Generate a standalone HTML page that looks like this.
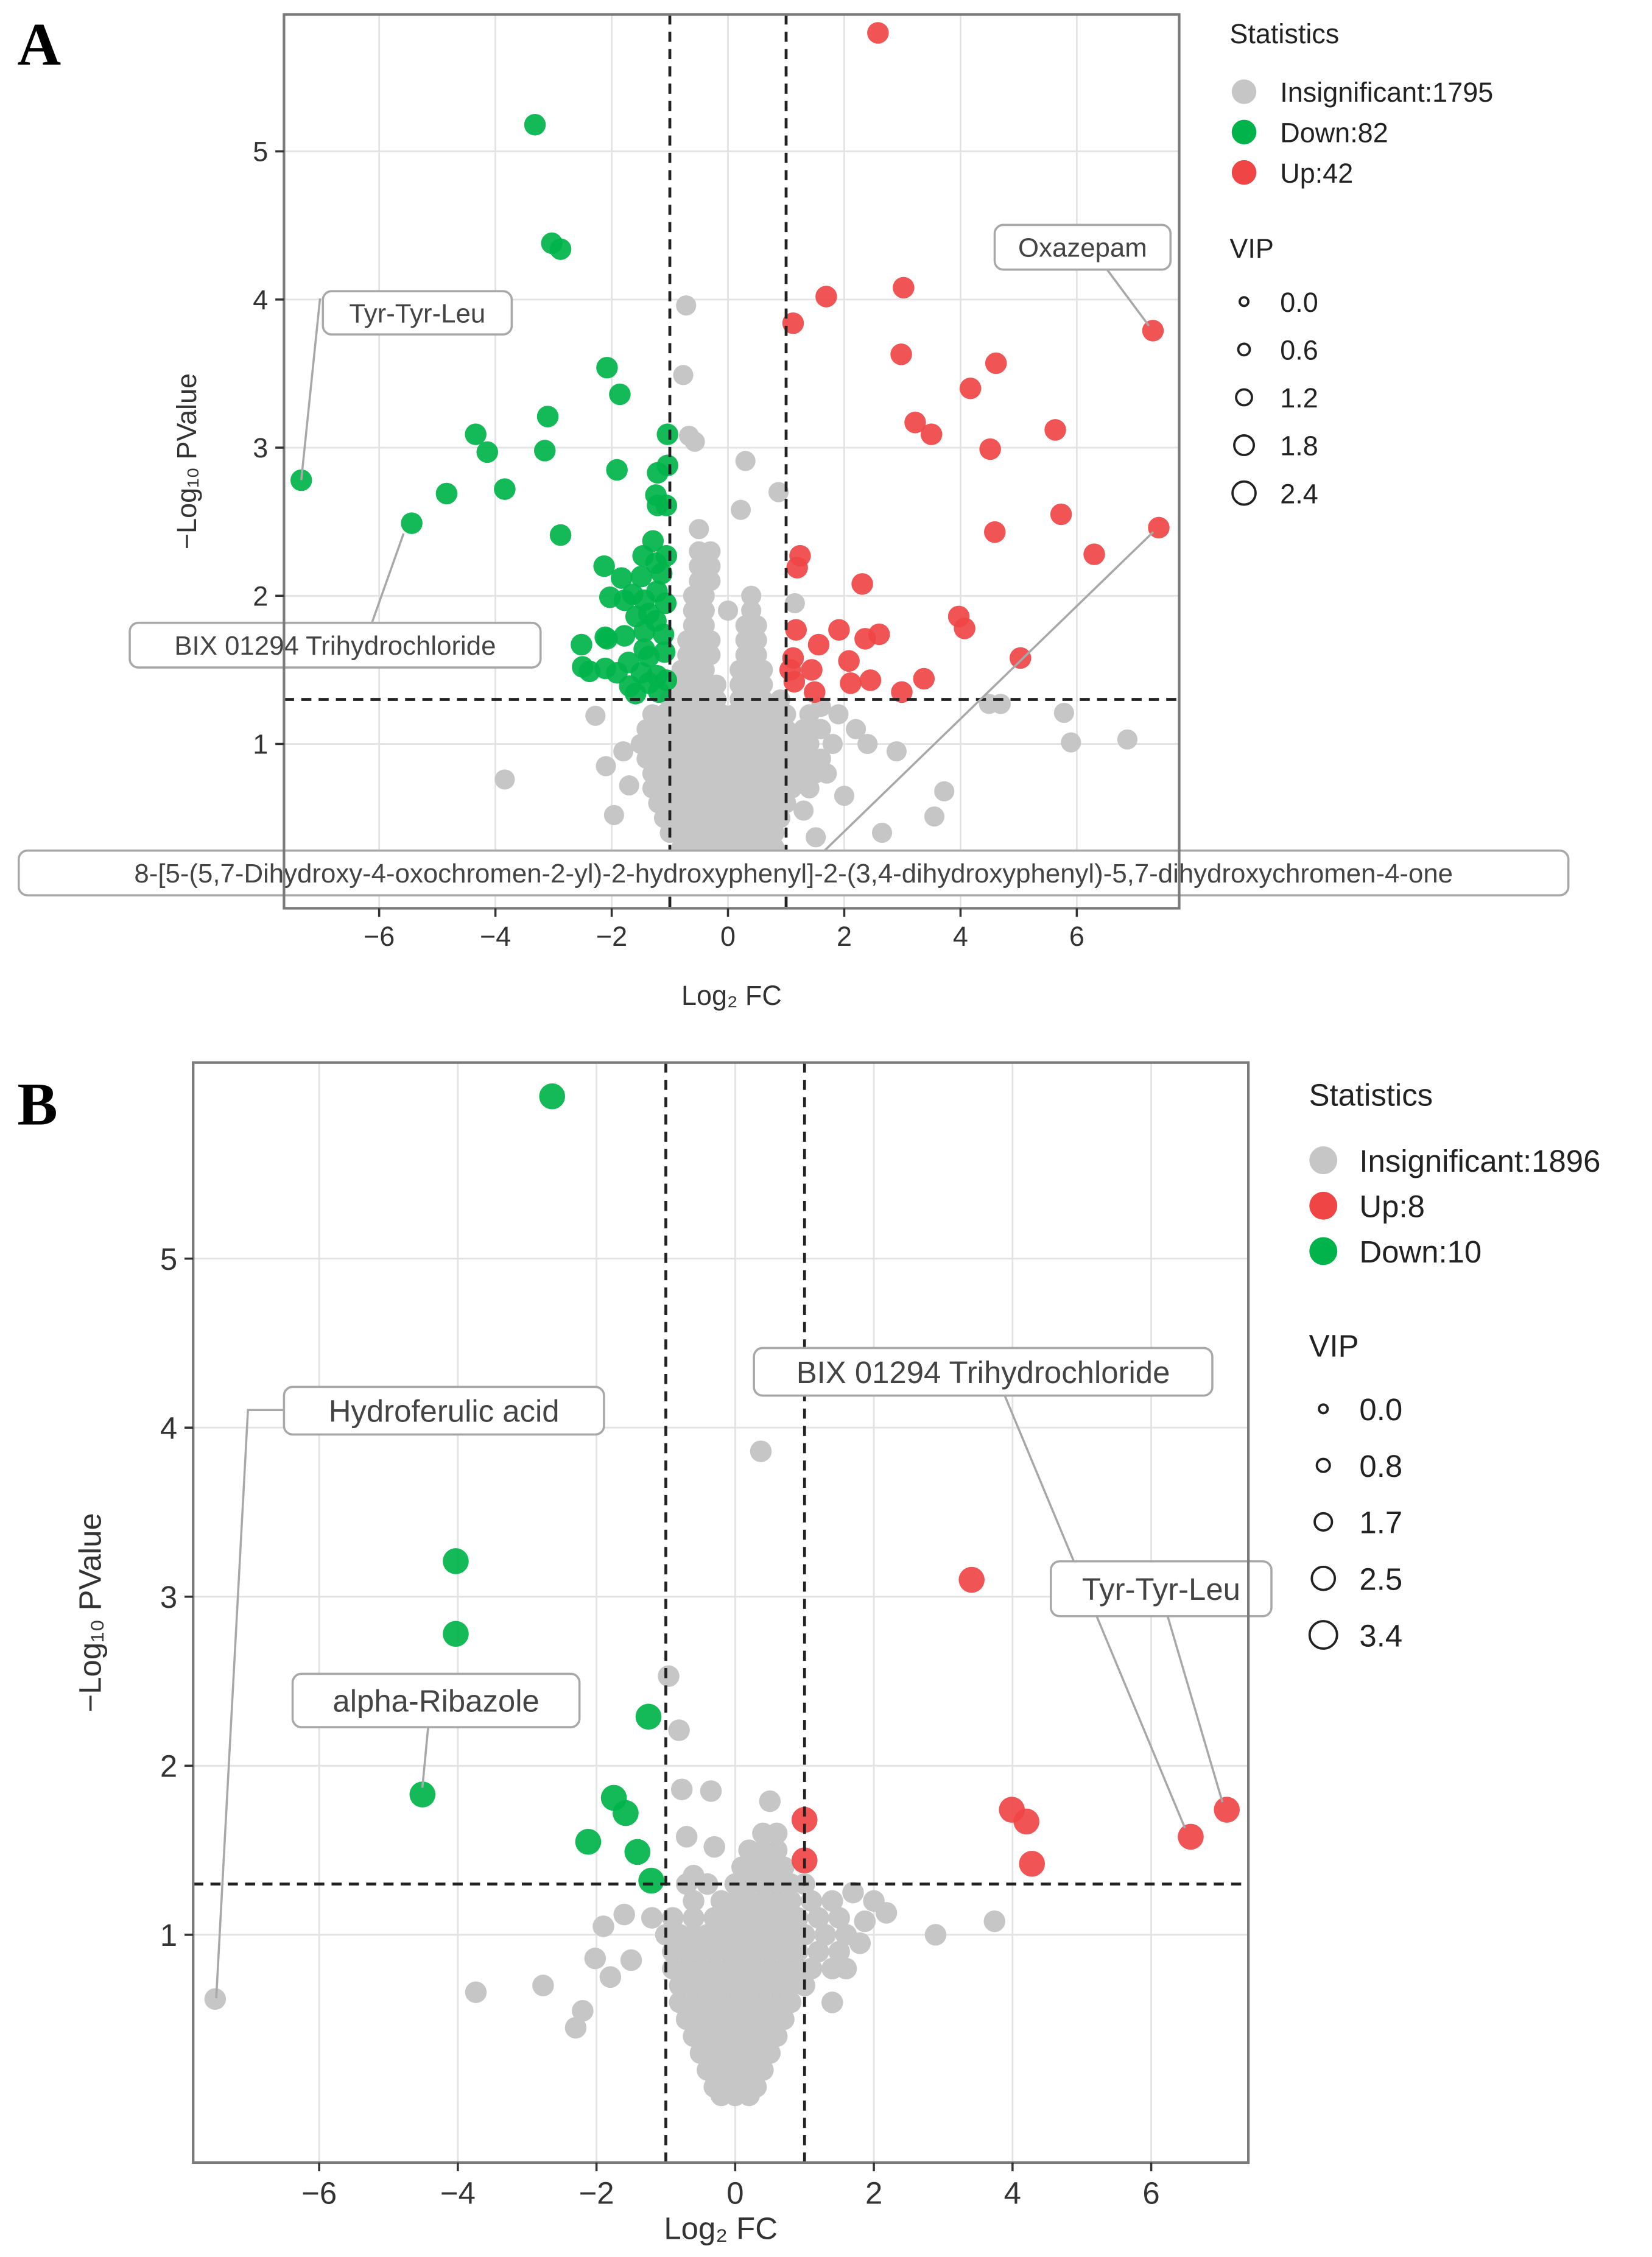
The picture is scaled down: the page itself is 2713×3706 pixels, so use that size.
<!DOCTYPE html>
<html><head><meta charset="utf-8">
<style>
html,body{margin:0;padding:0;background:#fff;}
svg{display:block;}
text{font-family:"Liberation Sans",sans-serif;}
text.serif{font-family:"Liberation Serif",serif;}
</style></head>
<body>
<svg id="fig" width="2713" height="3706" viewBox="0 0 1146 1565.5" preserveAspectRatio="none" xmlns="http://www.w3.org/2000/svg"></svg>
<script>
// ---------- Panel A data ----------
const upAX=[2.58,3.02,1.69,1.12,7.31,2.98,4.61,4.17,3.22,3.50,5.63,4.51,5.73,4.59,7.41,6.30,1.24,1.19,2.31,3.97,4.07,1.17,1.56,1.91,2.36,2.60,1.12,1.44,5.03,2.08,1.14,1.49,2.11,2.45,3.37,2.99,1.07];
const upAY=[5.80,4.08,4.02,3.84,3.79,3.63,3.57,3.40,3.17,3.09,3.12,2.99,2.55,2.43,2.46,2.28,2.27,2.19,2.08,1.86,1.78,1.77,1.67,1.77,1.71,1.74,1.58,1.50,1.58,1.56,1.42,1.35,1.41,1.43,1.44,1.35,1.50];
const downAX=[-3.32,-3.03,-2.88,-2.08,-1.86,-7.34,-4.34,-4.14,-3.10,-3.15,-3.84,-4.84,-5.44,-2.88,-1.91,-1.04,-1.21,-1.24,-1.04,-1.21,-1.06,
-1.29,-1.24,-1.46,-1.06,-2.13,-1.83,-1.49,-1.14,-1.64,-1.22,-2.03,-1.78,-1.44,-1.07,-1.36,-1.58,-1.24,-2.52,-2.08,-1.78,-1.44,-1.11,-2.50,-2.11,-1.71,-1.36,-1.09,-2.38,-1.91,-1.49,-1.22,-1.69,-1.36,-1.06,-1.59,-1.19,-2.11,-1.44];
const downAY=[5.18,4.38,4.34,3.54,3.36,2.78,3.09,2.97,3.21,2.98,2.72,2.69,2.49,2.41,2.85,3.09,2.83,2.68,2.88,2.61,2.61,
2.37,2.22,2.27,2.27,2.20,2.12,2.13,2.15,2.01,2.03,1.99,1.97,1.97,1.95,1.88,1.86,1.83,1.67,1.71,1.73,1.76,1.74,1.52,1.51,1.55,1.59,1.62,1.49,1.48,1.48,1.46,1.39,1.41,1.43,1.34,1.35,1.72,1.64];
const grayAX=[-0.72,-0.77,-0.67,-0.57,0.30,0.87,0.22,4.49,4.69,5.78,5.90,6.87,-3.84,3.72,3.55,-2.28,-1.96,2.65,1.51,-2.1,-1.8,-1.7,1.9,2.2,2.4,1.7,2.0,2.9,1.3,1.15,1.6];
const grayAY=[3.96,3.49,3.08,3.04,2.91,2.70,2.58,1.27,1.27,1.21,1.01,1.03,0.76,0.68,0.51,1.19,0.52,0.40,0.37,0.85,0.95,0.72,1.2,1.1,1.0,0.8,0.65,0.95,0.55,1.95,1.25];
const coreAY=[0.05,0.1,0.2,0.3,0.4,0.5,0.6,0.7,0.8,0.9,1.0,1.1,1.2,1.3,1.4,1.5,1.6,1.7,1.8,1.9,2.0,2.1,2.2,2.3,2.45];
const coreAX=[[-0.4,-0.2,0,0.2,0.4],[-0.6,-0.4,-0.2,0,0.2,0.4,0.6],[-0.7,-0.5,-0.3,-0.1,0.1,0.3,0.5,0.7],[-0.8,-0.6,-0.4,-0.2,0,0.2,0.4,0.6,0.8],[-1.0,-0.8,-0.6,-0.4,-0.2,0,0.2,0.4,0.6,0.8],
[-1.1,-0.9,-0.7,-0.5,-0.3,-0.1,0.1,0.3,0.5,0.7,0.9],[-1.2,-1.0,-0.8,-0.6,-0.4,-0.2,0,0.2,0.4,0.6,0.8,1.0],
[-1.3,-1.1,-0.9,-0.7,-0.5,-0.3,-0.1,0.1,0.3,0.5,0.7,0.9,1.1,1.4],[-1.3,-1.1,-0.9,-0.7,-0.5,-0.3,-0.1,0.1,0.3,0.5,0.7,0.9,1.2,1.5],
[-1.4,-1.2,-1.0,-0.8,-0.6,-0.4,-0.2,0,0.2,0.4,0.6,0.8,1.0,1.3,1.6],[-1.5,-1.3,-1.1,-0.9,-0.7,-0.5,-0.3,-0.1,0.1,0.3,0.5,0.7,0.9,1.1,1.4,1.8],
[-1.4,-1.2,-1.0,-0.8,-0.6,-0.4,-0.2,0,0.2,0.4,0.6,0.8,1.0,1.3,1.6],[-1.3,-1.1,-0.9,-0.7,-0.5,-0.3,-0.1,0.1,0.3,0.5,0.7,1.0,1.4],
[-1.0,-0.8,-0.6,-0.4,-0.2,0.2,0.4,0.6,0.9],[-0.8,-0.6,-0.4,-0.2,0.2,0.4,0.6],[-0.8,-0.6,-0.4,0.2,0.4,0.6],[-0.7,-0.5,-0.3,0.3,0.5],
[-0.7,-0.5,-0.3,0.3,0.5],[-0.6,-0.4,0.3,0.5],[-0.6,-0.4,0.0,0.4],[-0.6,-0.4,0.4],[-0.5,-0.3],[-0.5,-0.3],[-0.5,-0.3],[-0.5]];
// ---------- Panel B data ----------
const upBX=[3.41,3.99,4.20,4.28,6.57,7.09,1.0,1.0];
const upBY=[3.10,1.74,1.67,1.42,1.58,1.74,1.68,1.44];
const downBX=[-2.64,-4.03,-4.03,-4.51,-1.25,-1.75,-1.58,-2.12,-1.41,-1.21];
const downBY=[5.96,3.21,2.78,1.83,2.29,1.81,1.72,1.55,1.49,1.32];
const grayBX=[0.37,-7.5,-0.96,-0.81,-0.77,-0.35,-3.74,-2.77,-2.02,2.89,3.74,2.18,1.87,0.5,-1.6,-1.9,-1.5,-1.8,-2.2,1.6,1.8,1.4,2.0,1.7,-0.7,-0.3,-0.6,-2.3];
const grayBY=[3.86,0.62,2.53,2.21,1.86,1.85,0.66,0.70,0.86,1.0,1.08,1.13,1.08,1.79,1.12,1.05,0.85,0.75,0.55,0.8,0.95,0.6,1.2,1.25,1.58,1.52,1.35,0.45];
const coreBY=[0.05,0.1,0.2,0.3,0.4,0.5,0.6,0.7,0.8,0.9,1.0,1.1,1.2,1.3,1.4,1.5,1.6];
const coreBX=[[-0.2,0,0.2],[-0.3,-0.1,0.1,0.3],[-0.4,-0.2,0,0.2,0.4],[-0.5,-0.3,-0.1,0.1,0.3,0.5],[-0.6,-0.4,-0.2,0,0.2,0.4,0.6],
[-0.7,-0.5,-0.3,-0.1,0.1,0.3,0.5,0.7],[-0.8,-0.6,-0.4,-0.2,0,0.2,0.4,0.6,0.8],[-0.8,-0.6,-0.4,-0.2,0,0.2,0.4,0.6,0.8,1.0],
[-0.9,-0.7,-0.5,-0.3,-0.1,0.1,0.3,0.5,0.7,0.9,1.1,1.4],[-0.9,-0.7,-0.5,-0.3,-0.1,0.1,0.3,0.5,0.7,0.9,1.2,1.5],
[-1.0,-0.8,-0.6,-0.4,-0.2,0,0.2,0.4,0.6,0.8,1.0,1.3,1.6],[-1.2,-0.9,-0.6,-0.3,-0.1,0.1,0.3,0.5,0.7,0.9,1.2,1.5],
[-0.6,-0.2,0,0.2,0.4,0.6,0.8,1.1,1.4],[-0.7,-0.4,0,0.2,0.4,0.6,0.8,1.0],[0.1,0.3,0.5,0.7],[0.2,0.4,0.6],[0.4,0.6]];
const xTicks=[-6,-4,-2,0,2,4,6];
const xTickLabels=["\u22126","\u22124","\u22122","0","2","4","6"];
const yTicks=[1,2,3,4,5];
const legendA=["Insignificant:1795","Down:82","Up:42"];
const legendB=["Insignificant:1896","Up:8","Down:10"];
const vipA=["0.0","0.6","1.2","1.8","2.4"];
const vipB=["0.0","0.8","1.7","2.5","3.4"];

const NS="http://www.w3.org/2000/svg";
const svg=document.getElementById('fig');
function mk(tag,attrs,parent){const e=document.createElementNS(NS,tag);for(const k in attrs)e.setAttribute(k,attrs[k]);(parent||svg).appendChild(e);return e;}
const GREEN="#00b34a",RED="#f04545",GRAY="#c6c6c6";

function panel(P){
  const g=mk('g',{});
  
  
  const sx=v=>P.x0+P.ux*v, sy=v=>P.y0-P.uy*v;
  xTicks.forEach(t=>{const l=mk('line',{x1:sx(t),x2:sx(t),y1:P.top,y2:P.bot,stroke:'#e3e3e3','stroke-width':1.2},g);
    });
  yTicks.forEach(t=>{const l=mk('line',{x1:P.left,x2:P.right,y1:sy(t),y2:sy(t),stroke:'#e3e3e3','stroke-width':1.2},g);
    });
  const pts=(xs,ys,col,r,name,op)=>{xs.forEach((x,i)=>{const c=mk('circle',{cx:sx(x),cy:sy(ys[i]),r:r,fill:col,'fill-opacity':op},g);
    });};
  P.coreY.forEach((y,i)=>{P.coreX[i].forEach(x=>{const c=mk('circle',{cx:sx(x),cy:sy(y),r:P.rg,fill:GRAY},g);
    });});
  pts(P.gx,P.gy,GRAY,P.rg,'insignificant-point',1);
  pts(P.dx,P.dy,GREEN,P.rc,'down-point',0.92);
  pts(P.ux_,P.uy_,RED,P.rc,'up-point',0.92);
  [-1,1].forEach(v=>{const l=mk('line',{x1:sx(v),x2:sx(v),y1:P.top,y2:P.bot,stroke:'#222','stroke-width':2,'stroke-dasharray':'7,5'},g);
    });
  const h=mk('line',{x1:P.left,x2:P.right,y1:sy(1.3),y2:sy(1.3),stroke:'#222','stroke-width':2,'stroke-dasharray':'7,5'},g);
  
  P.labels.forEach(L=>{
    const ln=mk('polyline',{points:L.line,fill:'none',stroke:'#a8a8a8','stroke-width':1.5},g);
    
    const r=mk('rect',{x:L.x,y:L.y,width:L.w,height:L.h,rx:6,fill:'#fff',stroke:'#a8a8a8','stroke-width':1.5},g);
    
    const t=mk('text',{x:L.x+L.w/2,y:L.y+L.h/2+P.lfs*0.36,'text-anchor':'middle','font-size':P.lfs,fill:'#444'},g);
    t.textContent=L.t;
  });
  const fr=mk('rect',{x:P.left,y:P.top,width:P.right-P.left,height:P.bot-P.top,fill:'none',stroke:'#7a7a7a','stroke-width':1.8},g);
  
  xTicks.forEach((t,i)=>{const l=mk('line',{x1:sx(t),x2:sx(t),y1:P.bot,y2:P.bot+6,stroke:'#333','stroke-width':1.5},g);
    
    const tx=mk('text',{x:sx(t),y:P.bot+6+P.fs*1.05,'text-anchor':'middle','font-size':P.fs,fill:'#333'},g);
    tx.textContent=xTickLabels[i];});
  yTicks.forEach(t=>{const l=mk('line',{x1:P.left-6,x2:P.left,y1:sy(t),y2:sy(t),stroke:'#333','stroke-width':1.5},g);
    
    const tx=mk('text',{x:P.left-11,y:sy(t)+P.fs*0.36,'text-anchor':'end','font-size':P.fs,fill:'#333'},g);
    tx.textContent=String(t);});
  const xt=mk('text',{x:(P.left+P.right)/2,y:P.xtY,'text-anchor':'middle','font-size':P.fs,fill:'#333'},g);
  xt.textContent='Log\u2082 FC';
  const yt=mk('text',{x:0,y:0,'text-anchor':'middle','font-size':P.fs,fill:'#333',transform:`translate(${P.ytX},${(P.top+P.bot)/2}) rotate(-90)`},g);
  yt.textContent='\u2212Log\u2081\u2080 PValue';
  const lt=mk('text',{x:P.lgX,y:P.lgY,'font-size':P.fs,fill:'#222'},g);
  lt.textContent='Statistics';
  P.legend.forEach((s,i)=>{const cy=P.lgY+P.lgStep*(i+1.2);
    const c=mk('circle',{cx:P.lgX+10,cy:cy,r:P.fs*0.45,fill:P.legCols[i]},g);
    
    const t=mk('text',{x:P.lgX+35,y:cy+P.fs*0.37,'font-size':P.fs,fill:'#222'},g);
    t.textContent=s;});
  const vt=mk('text',{x:P.lgX,y:P.vipY,'font-size':P.fs,fill:'#222'},g);
  vt.textContent='VIP';
  P.vip.forEach((s,i)=>{const cy=P.vipY+P.vipStep*(i+1)+P.vipOff;
    const c=mk('circle',{cx:P.lgX+10,cy:cy,r:P.vipR[i],fill:'none',stroke:'#222','stroke-width':1.6},g);
    
    const t=mk('text',{x:P.lgX+35,y:cy+P.fs*0.37,'font-size':P.fs,fill:'#222'},g);
    t.textContent=s;});
  const pl=mk('text',{x:12,y:P.letterY,'font-size':42,'font-weight':'bold',fill:'#000','class':'serif'},g);
  pl.textContent=P.id;
}

panel({id:'A',x0:505,ux:40.33,y0:618.75,uy:102.75,left:197,right:818,top:10,bot:630,
  coreY:coreAY,coreX:coreAX,gx:grayAX,gy:grayAY,dx:downAX,dy:downAY,ux_:upAX,uy_:upAY,rg:7,rc:7.5,fs:19,lfs:18.5,
  xtY:697,ytX:136,lgX:853,lgY:30,lgStep:28,legend:legendA,legCols:[GRAY,GREEN,RED],
  vipY:179,vipStep:33.2,vipOff:-3,vip:vipA,vipR:[3,4,5.5,6.8,8],letterY:45,
  labels:[
   {t:'Tyr-Tyr-Leu',x:224,y:202,w:131,h:30,line:'222,207 209,333'},
   {t:'BIX 01294 Trihydrochloride',x:90,y:432,w:285,h:31,line:'280,370 258,432'},
   {t:'Oxazepam',x:690,y:156,w:122,h:31,line:'768,187 797,226'},
   {t:'8-[5-(5,7-Dihydroxy-4-oxochromen-2-yl)-2-hydroxyphenyl]-2-(3,4-dihydroxyphenyl)-5,7-dihydroxychromen-4-one',x:13,y:590,w:1075,h:31,line:'572,590 800,369'}]});

panel({id:'B',x0:510,ux:48.1,y0:1459.25,uy:117.25,left:134,right:866,top:737,bot:1500,
  coreY:coreBY,coreX:coreBX,gx:grayBX,gy:grayBY,dx:downBX,dy:downBY,ux_:upBX,uy_:upBY,rg:7.5,rc:9,fs:21.5,lfs:21.5,
  xtY:1553,ytX:70,lgX:908,lgY:767,lgStep:31.5,legend:legendB,legCols:[GRAY,RED,GREEN],
  vipY:941,vipStep:39.2,vipOff:-3,vip:vipB,vipR:[3,4.5,6,8,9.5],letterY:780,
  labels:[
   {t:'Hydroferulic acid',x:197,y:962,w:222,h:33,line:'197,978 172,978 150,1386'},
   {t:'alpha-Ribazole',x:203,y:1161,w:199,h:37,line:'297,1198 293,1240'},
   {t:'BIX 01294 Trihydrochloride',x:523,y:935,w:318,h:33,line:'697,968 822,1268'},
   {t:'Tyr-Tyr-Leu',x:729,y:1083,w:153,h:38,line:'810,1121 848,1250'}]});
</script>
</body></html>
